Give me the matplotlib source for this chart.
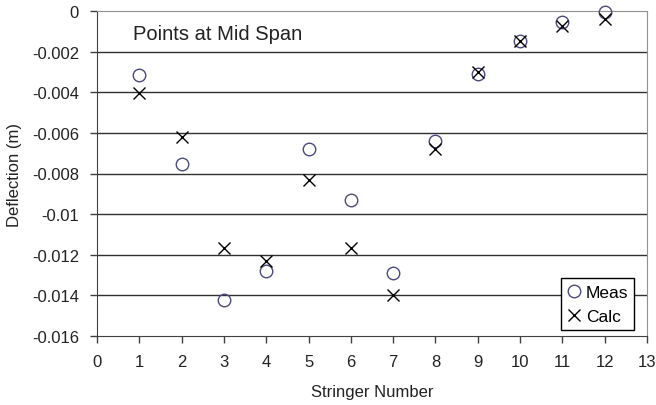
import numpy as np
import matplotlib
matplotlib.use('Agg')
from matplotlib import pyplot as plt

plt.rcParams['font.family'] = ['Liberation Sans', 'DejaVu Sans']

# Stringer numbers and deflections (m)
stringer = [1, 2, 3, 4, 5, 6, 7, 8, 9, 10, 11, 12]
meas = [-0.00317, -0.00752, -0.01424, -0.01281, -0.00681, -0.00931,
        -0.01289, -0.00640, -0.00312, -0.00148, -0.00054, -0.00005]
calc = [-0.00402, -0.00620, -0.01166, -0.01232, -0.00834, -0.01166,
        -0.01400, -0.00680, -0.00300, -0.00148, -0.00074, -0.00037]

xticks = np.arange(0, 14)
yticks = np.arange(-0.016, 0.0001, 0.002)
ylabels = ['-0.016', '-0.014', '-0.012', '-0.01', '-0.008', '-0.006',
           '-0.004', '-0.002', '0']

fig = plt.figure(figsize=(6.56, 4.06), dpi=100)
ax = fig.add_axes([97/656, 1-337/406, 550/656, 325/406])

for yv in yticks[1:-1]:
    ax.axhline(yv, color='#303030', lw=1.0, zorder=1)

ax.plot(stringer, meas, 'o', ms=9, mfc='none', mec='#4a4a7e', mew=1.0,
        label='Meas', zorder=3, clip_on=False)
ax.plot(stringer, calc, 'x', ms=8.5, color='black', mew=1.0,
        label='Calc', zorder=3, clip_on=False)

ax.set_xlim(0, 13)
ax.set_ylim(-0.016, 0)
ax.set_xticks(xticks)
ax.set_yticks(yticks)
ax.set_yticklabels(ylabels)
ax.tick_params(direction='out', length=5, width=1, colors='#404040',
               labelcolor='#222222', labelsize=12)
ax.tick_params(axis='x', pad=8)
ax.tick_params(axis='y', pad=8)

for s in ['top', 'right']:
    ax.spines[s].set_color('#909090')
for s in ['left', 'bottom']:
    ax.spines[s].set_color('#404040')

ax.set_xlabel('Stringer Number', fontsize=12, color='#222222', labelpad=11)
ax.set_ylabel('Deflection (m)', fontsize=12, color='#222222', labelpad=7)

ax.text(0.85, -0.0011, 'Points at Mid Span', fontsize=14.5, color='#222222',
        va='center', ha='left')

leg = ax.legend(loc='lower right', bbox_to_anchor=(0.977, 0.017),
                fancybox=False, framealpha=1, edgecolor='black',
                fontsize=12.5, handlelength=0.8, handletextpad=0.25,
                borderpad=0.35, labelspacing=0.55, borderaxespad=0)
leg.get_frame().set_linewidth(1.0)

plt.savefig('out.png', dpi=100)
plt.close()
